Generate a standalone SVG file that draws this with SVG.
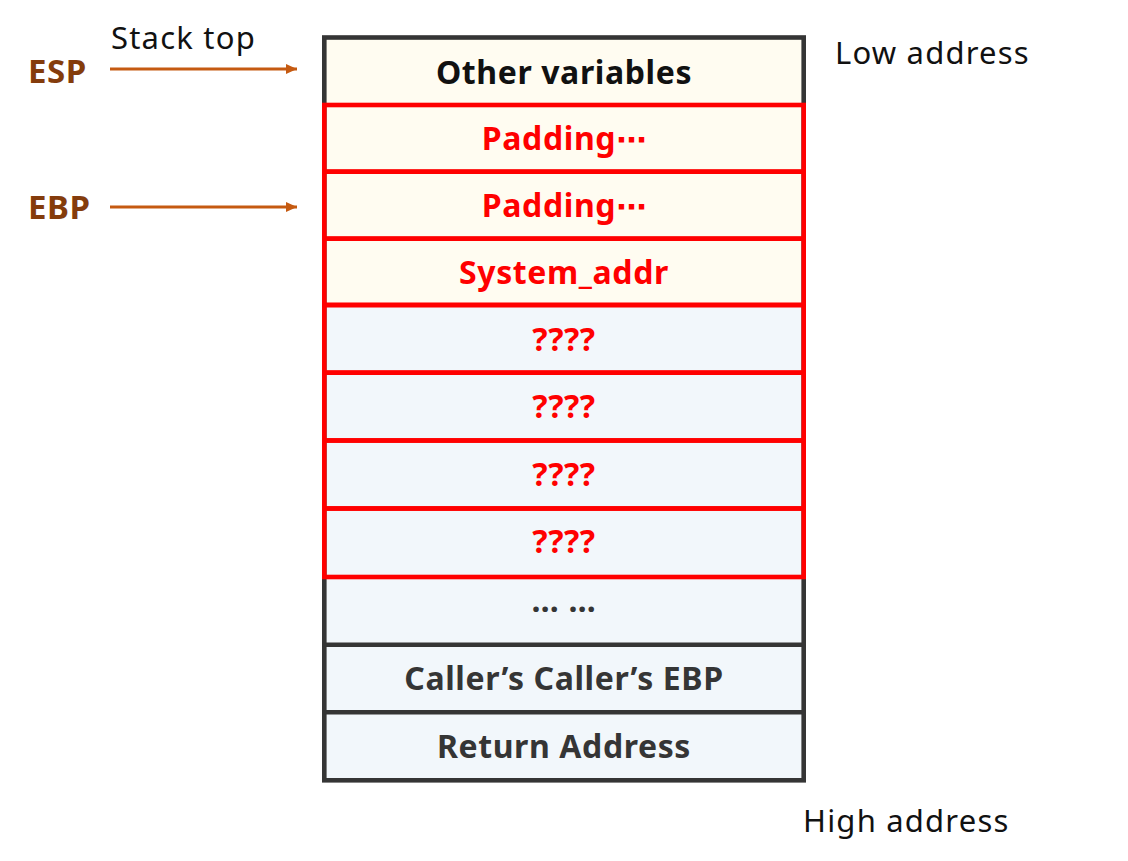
<svg xmlns="http://www.w3.org/2000/svg" width="1128" height="861" viewBox="0 0 1128 861">
<style>
.cream{fill:#FFFCF1}
.blue{fill:#F2F7FB}
.dk{stroke:#353535;stroke-width:4.6;fill:none}
.rd{stroke:#FF0000;stroke-width:4.6;fill:none}
.lbl{font-family:"Noto Sans","Open Sans",sans-serif;font-weight:bold;font-size:32px;letter-spacing:0.6px;text-anchor:middle}
.mid{font-family:"DejaVu Sans","Noto Sans CJK SC",sans-serif;font-size:30px;letter-spacing:0}
.red{fill:#FF0000}
.blk{fill:#111111}
.gry{fill:#353535}
.reg{font-family:"Noto Sans","Open Sans",sans-serif;font-size:31px;letter-spacing:1.2px;fill:#111111}
.reg2{font-family:"Noto Sans","Open Sans",sans-serif;font-weight:bold;font-size:33px;letter-spacing:0.5px;fill:#843C0C}
.arr{stroke:#C55A11;stroke-width:2.8;fill:none}
</style>
<defs>
<marker id="ah" markerWidth="12" markerHeight="10" refX="11" refY="5" orient="auto" markerUnits="userSpaceOnUse">
<path d="M0,0 L11,5 L0,10 Z" fill="#C55A11"/>
</marker>
</defs>
<rect width="1128" height="861" fill="#FFFFFF"/>

<g id="row-other"><rect x="324.3" y="37.5" width="479.4" height="67.5" class="cream"/><text x="564" y="83.5" class="lbl blk">Other variables</text></g>
<g id="row-pad1"><rect x="324.3" y="105" width="479.4" height="66.7" class="cream"/><text x="564" y="150" class="lbl red">Padding<tspan class="mid">⋯</tspan></text></g>
<g id="row-pad2"><rect x="324.3" y="171.7" width="479.4" height="67" class="cream"/><text x="564" y="217" class="lbl red">Padding<tspan class="mid">⋯</tspan></text></g>
<g id="row-sys"><rect x="324.3" y="238.7" width="479.4" height="66.3" class="cream"/><text x="564" y="284" class="lbl red">System_addr</text></g>
<g id="row-q1"><rect x="324.3" y="305" width="479.4" height="67.7" class="blue"/><text x="564" y="351" class="lbl red">????</text></g>
<g id="row-q2"><rect x="324.3" y="372.7" width="479.4" height="67.8" class="blue"/><text x="564" y="418" class="lbl red">????</text></g>
<g id="row-q3"><rect x="324.3" y="440.5" width="479.4" height="68" class="blue"/><text x="564" y="485.5" class="lbl red">????</text></g>
<g id="row-q4"><rect x="324.3" y="508.5" width="479.4" height="68.5" class="blue"/><text x="564" y="553" class="lbl red">????</text></g>
<g id="row-dots"><rect x="324.3" y="577" width="479.4" height="67.7" class="blue"/><text x="564" y="612" class="lbl gry">… …</text></g>
<g id="row-callers"><rect x="324.3" y="644.7" width="479.4" height="67.6" class="blue"/><text x="564" y="690" class="lbl gry">Caller’s Caller’s EBP</text></g>
<g id="row-ret"><rect x="324.3" y="712.3" width="479.4" height="68" class="blue"/><text x="564" y="758" class="lbl gry">Return Address</text></g>

<g id="borders">
<rect x="324.3" y="37.5" width="479.4" height="742.8" class="dk"/>
<line x1="324.3" y1="644.7" x2="803.7" y2="644.7" class="dk"/>
<line x1="324.3" y1="712.3" x2="803.7" y2="712.3" class="dk"/>
<rect x="324.3" y="105" width="479.4" height="66.7" class="rd"/>
<rect x="324.3" y="171.7" width="479.4" height="67" class="rd"/>
<rect x="324.3" y="238.7" width="479.4" height="66.3" class="rd"/>
<rect x="324.3" y="305" width="479.4" height="67.7" class="rd"/>
<rect x="324.3" y="372.7" width="479.4" height="67.8" class="rd"/>
<rect x="324.3" y="440.5" width="479.4" height="68" class="rd"/>
<rect x="324.3" y="508.5" width="479.4" height="68.5" class="rd"/>
</g>

<g id="esp"><text x="28" y="83.3" class="reg2">ESP</text></g>
<g id="ebp"><text x="28" y="219.3" class="reg2">EBP</text></g>
<g id="stack-top"><text x="111" y="49" class="reg">Stack top</text></g>
<g id="low"><text x="835" y="63.5" class="reg">Low address</text></g>
<g id="high"><text x="803" y="831.5" class="reg">High address</text></g>

<g id="connectors">
<line x1="110" y1="69" x2="297" y2="69" class="arr" marker-end="url(#ah)"/>
<line x1="110" y1="207" x2="297" y2="207" class="arr" marker-end="url(#ah)"/>
</g>
</svg>
